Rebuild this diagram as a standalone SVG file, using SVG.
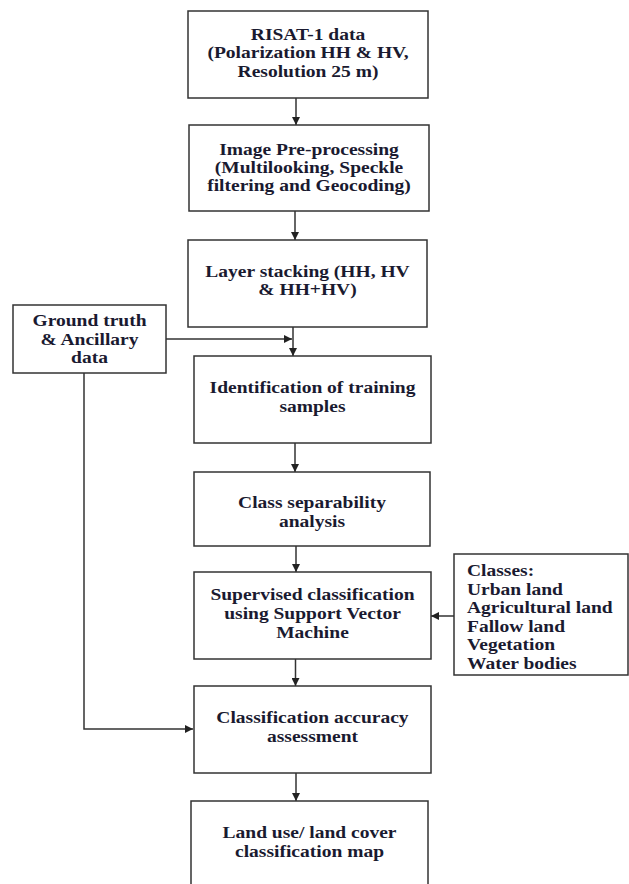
<svg xmlns="http://www.w3.org/2000/svg" width="629" height="884" viewBox="0 0 629 884">
  <style>
    .box { fill: #ffffff; stroke: #333333; stroke-width: 1.5; }
    .lbl { font-family: "Liberation Serif", "Times New Roman", serif; font-weight: bold; font-size: 16px; fill: #1a1a30; text-anchor: middle; }
    .lft { text-anchor: start; }
    .conn { fill: none; stroke: #333333; stroke-width: 1.5; }
  </style>
  <defs>
    <marker id="arrow" markerUnits="userSpaceOnUse" markerWidth="8" markerHeight="8" refX="8" refY="4" orient="auto">
      <path d="M0,0 L8,4 L0,8 z" fill="#222222"/>
    </marker>
  </defs>
  <rect width="629" height="884" fill="#ffffff"/>

  <g id="connectors">
    <line class="conn" x1="296" y1="98" x2="296" y2="125" marker-end="url(#arrow)"/>
    <line class="conn" x1="295" y1="211" x2="295" y2="240" marker-end="url(#arrow)"/>
    <line class="conn" x1="293" y1="327" x2="293" y2="356" marker-end="url(#arrow)"/>
    <line class="conn" x1="166" y1="339" x2="292" y2="339" marker-end="url(#arrow)"/>
    <line class="conn" x1="295" y1="443" x2="295" y2="472" marker-end="url(#arrow)"/>
    <line class="conn" x1="296" y1="546" x2="296" y2="572" marker-end="url(#arrow)"/>
    <line class="conn" x1="454" y1="616" x2="431" y2="616" marker-end="url(#arrow)"/>
    <line class="conn" x1="295.5" y1="659" x2="295.5" y2="686" marker-end="url(#arrow)"/>
    <polyline class="conn" points="84,373 84,729 193,729" marker-end="url(#arrow)"/>
    <line class="conn" x1="296" y1="773" x2="296" y2="801" marker-end="url(#arrow)"/>
  </g>

  <g id="risat">
    <rect class="box" x="188" y="11" width="240" height="87"/>
    <g transform="translate(308,0) scale(1.22,1)">
      <text class="lbl" x="0" y="40">RISAT-1 data</text>
      <text class="lbl" x="0" y="58.5">(Polarization HH &amp; HV,</text>
      <text class="lbl" x="0" y="77">Resolution 25 m)</text>
    </g>
  </g>

  <g id="preprocessing">
    <rect class="box" x="189" y="125" width="240" height="86"/>
    <g transform="translate(309,0) scale(1.22,1)">
      <text class="lbl" x="0" y="155">Image Pre-processing</text>
      <text class="lbl" x="0" y="173.5">(Multilooking, Speckle</text>
      <text class="lbl" x="0" y="191">filtering and Geocoding)</text>
    </g>
  </g>

  <g id="stacking">
    <rect class="box" x="188" y="240" width="239" height="87"/>
    <g transform="translate(307.5,0) scale(1.22,1)">
      <text class="lbl" x="0" y="277">Layer stacking (HH, HV</text>
      <text class="lbl" x="0" y="295">&amp; HH+HV)</text>
    </g>
  </g>

  <g id="groundtruth">
    <rect class="box" x="13" y="305" width="153" height="68"/>
    <g transform="translate(89.5,0) scale(1.22,1)">
      <text class="lbl" x="0" y="326">Ground truth</text>
      <text class="lbl" x="0" y="345">&amp; Ancillary</text>
      <text class="lbl" x="0" y="363.5">data</text>
    </g>
  </g>

  <g id="training">
    <rect class="box" x="194" y="356" width="237" height="87"/>
    <g transform="translate(312.5,0) scale(1.22,1)">
      <text class="lbl" x="0" y="393">Identification of training</text>
      <text class="lbl" x="0" y="412">samples</text>
    </g>
  </g>

  <g id="separability">
    <rect class="box" x="194" y="472" width="236" height="74"/>
    <g transform="translate(312,0) scale(1.22,1)">
      <text class="lbl" x="0" y="508">Class separability</text>
      <text class="lbl" x="0" y="527">analysis</text>
    </g>
  </g>

  <g id="svm">
    <rect class="box" x="194" y="572" width="237" height="87"/>
    <g transform="translate(312.5,0) scale(1.22,1)">
      <text class="lbl" x="0" y="600">Supervised classification</text>
      <text class="lbl" x="0" y="619">using Support Vector</text>
      <text class="lbl" x="0" y="638">Machine</text>
    </g>
  </g>

  <g id="classes">
    <rect class="box" x="454" y="554" width="174" height="121"/>
    <g transform="translate(467,0) scale(1.22,1)">
      <text class="lbl lft" x="0" y="576">Classes:</text>
      <text class="lbl lft" x="0" y="594.6">Urban land</text>
      <text class="lbl lft" x="0" y="613.2">Agricultural land</text>
      <text class="lbl lft" x="0" y="631.8">Fallow land</text>
      <text class="lbl lft" x="0" y="650.4">Vegetation</text>
      <text class="lbl lft" x="0" y="669">Water bodies</text>
    </g>
  </g>

  <g id="accuracy">
    <rect class="box" x="194" y="686" width="237" height="87"/>
    <g transform="translate(312.5,0) scale(1.22,1)">
      <text class="lbl" x="0" y="723.5">Classification accuracy</text>
      <text class="lbl" x="0" y="742">assessment</text>
    </g>
  </g>

  <g id="lulcmap">
    <rect class="box" x="191" y="801" width="237" height="95"/>
    <g transform="translate(309.5,0) scale(1.22,1)">
      <text class="lbl" x="0" y="838">Land use/ land cover</text>
      <text class="lbl" x="0" y="857">classification map</text>
    </g>
  </g>
</svg>
